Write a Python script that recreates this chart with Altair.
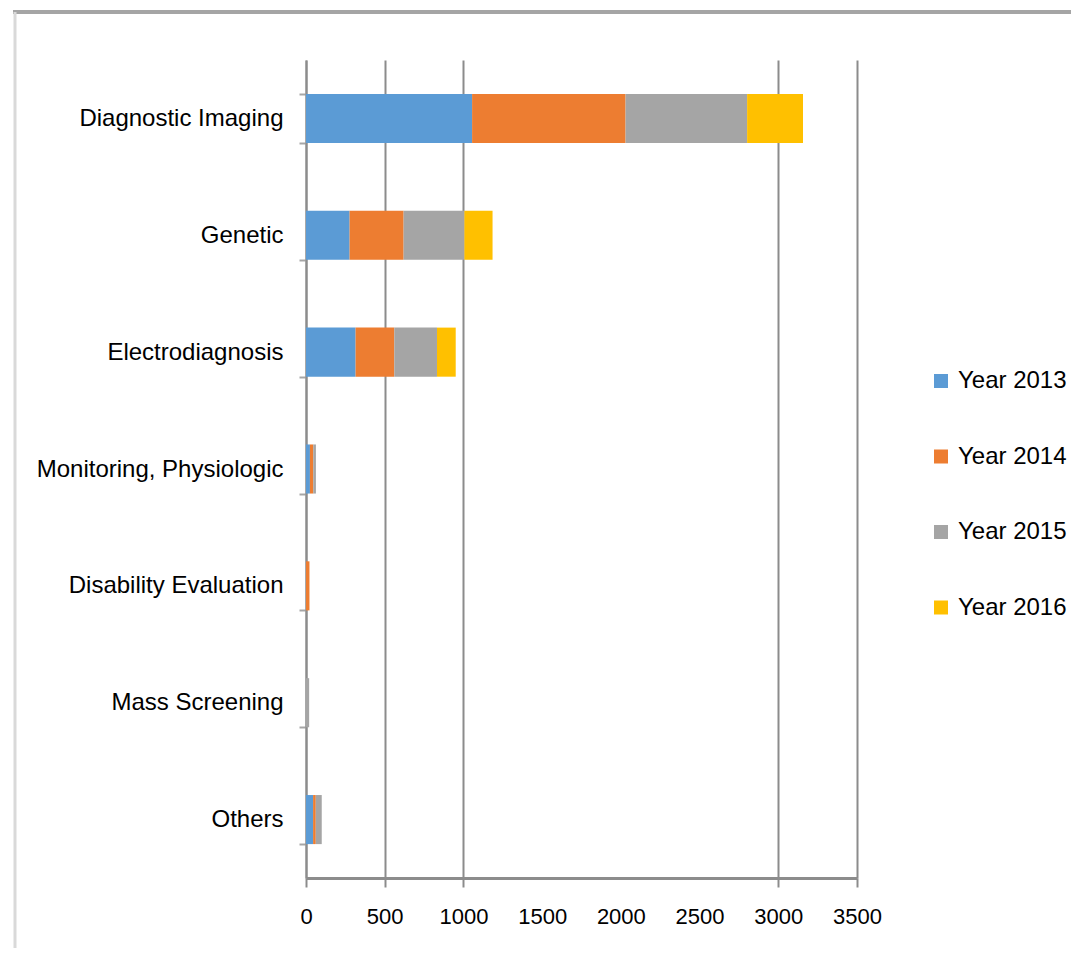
import altair as alt
import pandas as pd

categories = ["Diagnostic Imaging", "Genetic", "Electrodiagnosis",
              "Monitoring, Physiologic", "Disability Evaluation",
              "Mass Screening", "Others"]
years = ["Year 2013", "Year 2014", "Year 2015", "Year 2016"]
y2013 = [1055, 277, 315, 25, 0, 0, 45]
y2014 = [975, 343, 246, 21, 22, 0, 17]
y2015 = [772, 386, 271, 17, 0, 20, 38]
y2016 = [355, 179, 119, 0, 0, 0, 0]
colors = ["#5B9BD5", "#ED7D31", "#A5A5A5", "#FFC000"]
x_ticks = [0, 500, 1000, 1500, 2000, 2500, 3000, 3500]

rows = []
for yi, (year, vals) in enumerate(zip(years, [y2013, y2014, y2015, y2016])):
    for c, v in zip(categories, vals):
        rows.append({"category": c, "year": year, "order": yi, "value": v})
df = pd.DataFrame(rows)

FONT = "Liberation Sans"
FS = 24
hide_mid = {"condition": {"test": "datum.value > 1200 && datum.value < 2800", "value": 0}, "value": 1}

bars = alt.Chart(df).mark_bar().encode(
    y=alt.Y("category:N", sort=categories, title=None,
            scale=alt.Scale(paddingInner=0.58, paddingOuter=0.29),
            axis=alt.Axis(labelFontSize=FS, labelFont=FONT, labelColor="#000",
                          labelPadding=16, labelLimit=0, tickBand="extent", tickSize=7,
                          tickColor="#a6a6a6", tickWidth=2, domainColor="#8c8c8c",
                          domainWidth=2, grid=False)),
    x=alt.X("value:Q", stack="zero", title=None,
            scale=alt.Scale(domain=[0, 3500], nice=False),
            axis=alt.Axis(values=x_ticks, format="d", grid=True, gridColor="#8c8c8c",
                          gridWidth=2, gridOpacity=hide_mid, tickOpacity=hide_mid,
                          tickColor="#8c8c8c", tickWidth=2, tickSize=9,
                          domainColor="#8c8c8c", domainWidth=3,
                          labelFontSize=FS - 2, labelFont=FONT, labelColor="#000",
                          labelPadding=19, labelFlush=False)),
    color=alt.Color("year:N", scale=alt.Scale(domain=years, range=colors),
                    legend=alt.Legend(title=None, orient="none", legendX=623, legendY=309,
                                      labelFontSize=FS, labelFont=FONT, labelColor="#000",
                                      labelLimit=0, symbolType="square", symbolSize=196,
                                      symbolStrokeWidth=0, rowPadding=51.5, labelOffset=5)),
    order=alt.Order("order:Q"),
)

frame_src = pd.DataFrame({"k": [0]})
frame_top = alt.Chart(frame_src).mark_rule(color="#a5a5a5", strokeWidth=4).encode(
    x=alt.value(-293), x2=alt.value(800), y=alt.value(-48))
frame_left = alt.Chart(frame_src).mark_rule(color="#d9d9d9", strokeWidth=3).encode(
    x=alt.value(-291), y=alt.value(-48), y2=alt.value(920))

chart = alt.layer(bars, frame_top, frame_left).properties(
    width=551, height=818,
    autosize=alt.AutoSizeParams(type="none"),
    padding={"left": 298, "top": 52, "right": 214, "bottom": 70},
).configure_view(stroke=None)

chart.save("out.html", embed_options={"renderer": "svg", "actions": False})
